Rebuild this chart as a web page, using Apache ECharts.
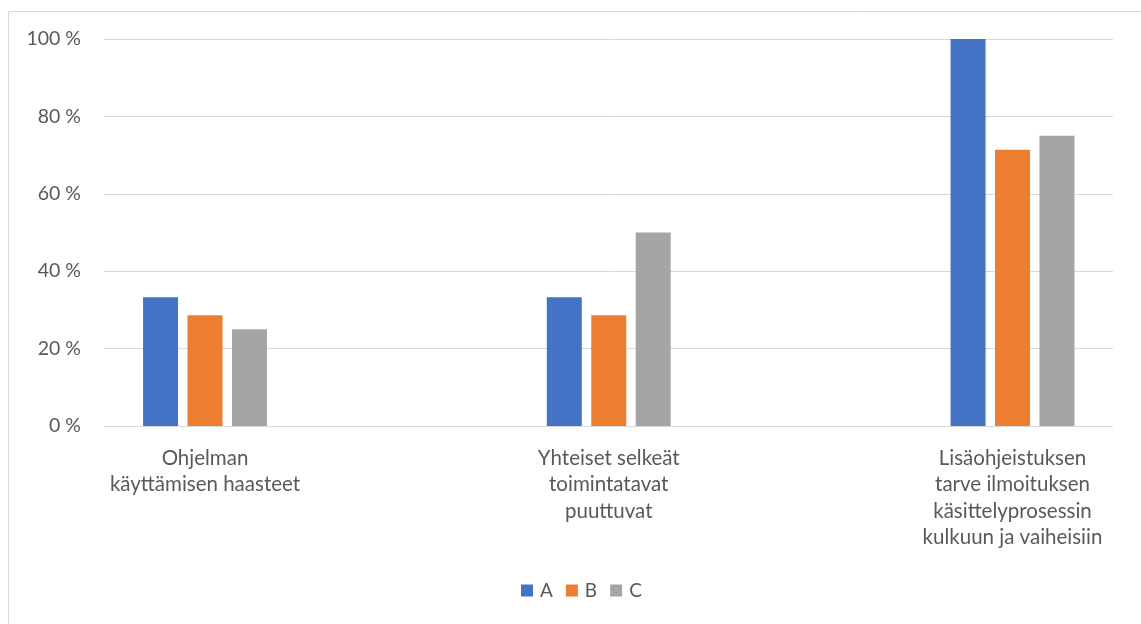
<!DOCTYPE html>
<html>
<head>
<meta charset="utf-8">
<script src="https://cdn.jsdelivr.net/npm/echarts@6/dist/echarts.min.js"></script>
<style>
  html, body { margin: 0; padding: 0; background: #ffffff; }
  #chart { width: 1141px; height: 624px; }
</style>
</head>
<body>
<div id="chart"></div>
<script>
// Chart data
const categories = [
  'Ohjelman\nkäyttämisen haasteet',
  'Yhteiset selkeät\ntoimintatavat\npuuttuvat',
  'Lisäohjeistuksen\ntarve ilmoituksen\nkäsittelyprosessin\nkulkuun ja vaiheisiin'
];
const seriesNames = ['A', 'B', 'C'];
const valuesA = [33.3, 33.3, 100];
const valuesB = [28.6, 28.6, 71.4];
const valuesC = [25, 50, 75];
const yTicks = [0, 20, 40, 60, 80, 100];

const colors = ['#4472C4', '#ED7D31', '#A5A5A5'];
const textColor = '#595959';
const fontFamily = 'Lato, "Open Sans", sans-serif';

const chart = echarts.init(document.getElementById('chart'), null, { renderer: 'canvas' });

const yMin = yTicks[0];
const yMax = yTicks[yTicks.length - 1];
const yStep = yTicks[1] - yTicks[0];

const seriesValues = [valuesA, valuesB, valuesC];

chart.setOption({
  animation: false,
  backgroundColor: '#ffffff',
  color: colors,
  graphic: [{
    type: 'rect',
    silent: true,
    shape: { x: 8.5, y: 11.5, width: 1300, height: 800 },
    style: { fill: 'none', stroke: '#d9d9d9', lineWidth: 1 }
  }],
  legend: {
    data: seriesNames,
    bottom: 19,
    left: 516,
    itemWidth: 12,
    itemHeight: 12,
    itemGap: 13,
    icon: 'rect',
    textStyle: { color: textColor, fontSize: 19, fontFamily: fontFamily, padding: [0, 0, 0, 2] }
  },
  grid: [
    // value scale and gridlines
    { left: 104, right: 28, top: 39, bottom: 198, containLabel: false },
    // group centres: first and last category sit on the grid edges
    { left: 205, right: 128.5, top: 39, bottom: 198, containLabel: false }
  ],
  xAxis: [
    { type: 'category', gridIndex: 0, data: categories, show: false },
    {
      type: 'category',
      gridIndex: 1,
      data: categories,
      boundaryGap: false,
      axisLine: { show: false },
      axisTick: { show: false },
      axisLabel: {
        color: textColor,
        fontSize: 20.5,
        fontFamily: fontFamily,
        lineHeight: 26.5,
        margin: 19,
        align: 'center',
        showMinLabel: true,
        showMaxLabel: true,
        interval: 0
      }
    }
  ],
  yAxis: [
    {
      type: 'value',
      gridIndex: 0,
      min: yMin,
      max: yMax,
      interval: yStep,
      axisLine: { show: false },
      axisTick: { show: false },
      splitLine: { lineStyle: { color: '#d9d9d9', width: 1 } },
      axisLabel: {
        color: textColor,
        fontSize: 19.5,
        fontFamily: fontFamily,
        margin: 23,
        formatter: v => v + ' %'
      }
    },
    {
      type: 'value',
      gridIndex: 1,
      min: yMin,
      max: yMax,
      interval: yStep,
      show: false
    }
  ],
  series: seriesNames.map((name, i) => ({
    name: name,
    type: 'bar',
    xAxisIndex: 1,
    yAxisIndex: 1,
    data: seriesValues[i],
    barWidth: 35,
    barGap: '27%',
    clip: false,
    itemStyle: { color: colors[i] }
  }))
});
</script>
</body>
</html>
